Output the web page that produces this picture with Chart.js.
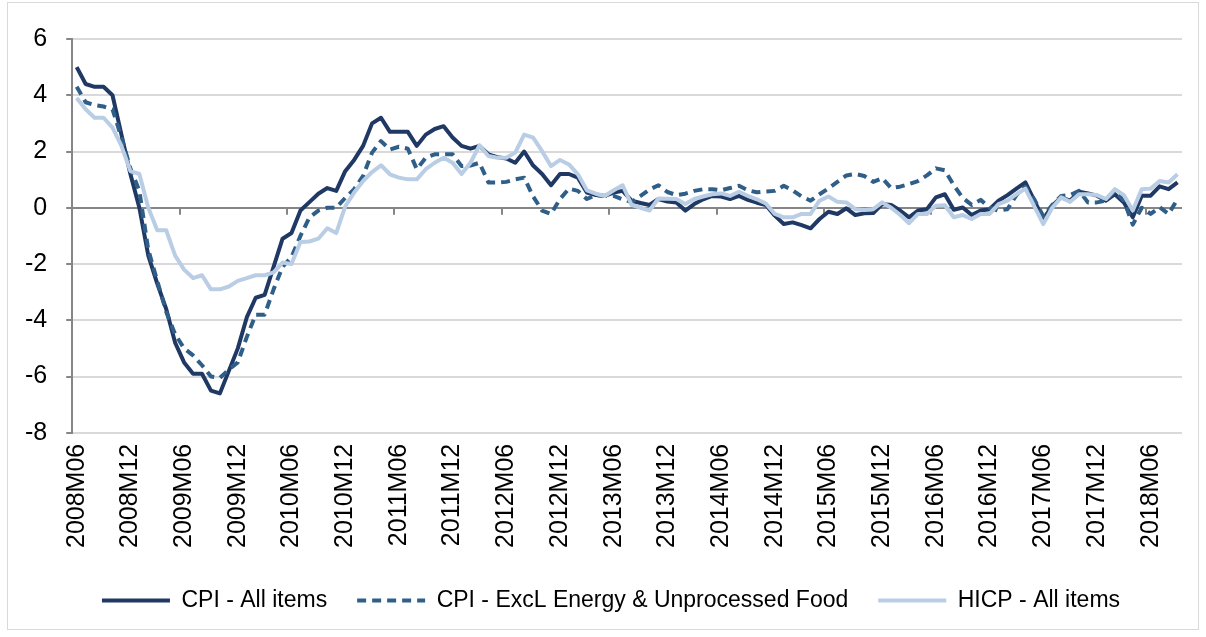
<!DOCTYPE html>
<html>
<head>
<meta charset="utf-8">
<script src="https://cdn.jsdelivr.net/npm/chart.js@4/dist/chart.umd.min.js"></script>
<style>
  html, body { margin: 0; padding: 0; background: #fff; }
  #wrap { position: relative; width: 1206px; height: 637px; }
  #frame { position: absolute; left: 7px; top: 2px; width: 1192px; height: 628px; border: 1px solid #d9d9d9; box-sizing: border-box; }
  canvas { position: absolute; left: 0; top: 0; }
</style>
</head>
<body>
<div id="wrap">
  <div id="frame"></div>
  <canvas id="grafica" width="1206" height="637"></canvas>
</div>
<script>
// meses 2008M06 .. 2018M09
const months = [];
for (let y = 2008, m = 6; months.length < 124; ) {
    months.push(y + 'M' + String(m).padStart(2, '0'));
    m++;
    if (m > 12) { m = 1; y++; }
}

// CPI - All items (una fila = 12 meses desde junio)
const cpiAll = [
    5.0, 4.4, 4.3, 4.3, 4.0, 2.6, 1.2, 0.0, -1.7, -2.7, -3.6, -4.8,
    -5.5, -5.9, -5.9, -6.5, -6.6, -5.8, -5.0, -3.9, -3.2, -3.1, -2.1, -1.1,
    -0.9, -0.1, 0.2, 0.5, 0.7, 0.6, 1.3, 1.7, 2.2, 3.0, 3.2, 2.7,
    2.7, 2.7, 2.2, 2.6, 2.8, 2.9, 2.5, 2.2, 2.1, 2.2, 1.9, 1.8,
    1.75, 1.6, 2.0, 1.5, 1.2, 0.8, 1.2, 1.2, 1.07, 0.54, 0.45, 0.42,
    0.54, 0.6, 0.25, 0.17, 0.1, 0.31, 0.22, 0.19, -0.1, 0.13, 0.3, 0.42,
    0.4, 0.31, 0.42, 0.28, 0.18, 0.1, -0.28, -0.58, -0.52, -0.62, -0.73, -0.4,
    -0.14, -0.22, -0.02, -0.26, -0.2, -0.19, 0.13, 0.1, -0.1, -0.34, -0.1, -0.05,
    0.37, 0.48, -0.07, 0.01, -0.26, -0.1, -0.05, 0.25, 0.45, 0.68, 0.9, 0.25,
    -0.4, 0.07, 0.37, 0.25, 0.57, 0.51, 0.43, 0.25, 0.48, 0.19, -0.34, 0.43,
    0.43, 0.76, 0.66, 0.9
];

// CPI - ExcL Energy & Unprocessed Food
const cpiExcl = [
    4.3, 3.75, 3.65, 3.6, 3.5, 2.5, 1.4, 0.6, -1.5, -2.6, -3.7, -4.5,
    -5.0, -5.25, -5.6, -6.0, -6.05, -5.75, -5.5, -4.6, -3.8, -3.8, -2.9, -2.1,
    -1.75, -1.0, -0.35, -0.1, 0.0, 0.0, 0.35, 0.66, 1.13, 1.96, 2.37, 2.07,
    2.17, 2.1, 1.37, 1.78, 1.9, 1.9, 1.9, 1.48, 1.5, 1.6, 0.9, 0.9,
    0.92, 1.01, 1.07, 0.4, -0.1, -0.22, 0.31, 0.68, 0.6, 0.31, 0.45, 0.42,
    0.42, 0.3, 0.2, 0.42, 0.65, 0.8, 0.56, 0.45, 0.5, 0.6, 0.66, 0.66,
    0.62, 0.7, 0.78, 0.62, 0.55, 0.58, 0.6, 0.78, 0.62, 0.4, 0.25, 0.48,
    0.69, 0.92, 1.15, 1.2, 1.13, 0.92, 1.05, 0.7, 0.75, 0.84, 0.95, 1.15,
    1.4, 1.33, 0.8, 0.35, 0.1, 0.28, 0.0, -0.1, -0.05, 0.45, 0.75, 0.3,
    -0.3, 0.1, 0.42, 0.45, 0.6, 0.19, 0.19, 0.25, 0.6, 0.25, -0.6, 0.0,
    -0.22, 0.02, -0.22, 0.31
];

// HICP - All items
const hicpAll = [
    3.9, 3.5, 3.2, 3.2, 2.85, 2.2, 1.3, 1.2, 0.0, -0.8, -0.8, -1.7,
    -2.2, -2.5, -2.4, -2.9, -2.9, -2.8, -2.6, -2.5, -2.4, -2.4, -2.3, -1.95,
    -2.0, -1.22, -1.2, -1.1, -0.73, -0.9, 0.05, 0.54, 0.95, 1.27, 1.51, 1.19,
    1.07, 1.01, 1.01, 1.37, 1.6, 1.78, 1.6, 1.2, 1.6, 2.22, 1.84, 1.78,
    1.78, 1.96, 2.6, 2.49, 2.01, 1.48, 1.7, 1.54, 1.19, 0.62, 0.5, 0.42,
    0.62, 0.8, 0.1, 0.0, -0.1, 0.33, 0.32, 0.31, 0.13, 0.31, 0.4, 0.48,
    0.51, 0.42, 0.57, 0.42, 0.3, 0.15, -0.22, -0.34, -0.34, -0.22, -0.22, 0.25,
    0.4, 0.21, 0.19, -0.05, -0.08, -0.05, 0.19, 0.0, -0.25, -0.55, -0.22, -0.22,
    0.07, 0.09, -0.34, -0.26, -0.4, -0.22, -0.22, 0.13, 0.25, 0.48, 0.68, 0.05,
    -0.58, 0.0, 0.37, 0.21, 0.48, 0.48, 0.45, 0.31, 0.66, 0.45, -0.1, 0.66,
    0.68, 0.95, 0.9, 1.19
];

const seriesNames = ['CPI - All items', 'CPI - ExcL Energy & Unprocessed Food', 'HICP - All items'];

// marcas del eje en la linea del cero, cada 12 meses
const zeroTicks = {
    id: 'zeroTicks',
    afterLayout(chart) {
        // mover la leyenda un poco a la derecha, como en el original
        chart.legend.left += 5;
        chart.legend.right += 5;
    },
    beforeDatasetsDraw(chart) {
        const xs = chart.scales.x;
        const ys = chart.scales.y;
        const half = (xs.getPixelForValue(1) - xs.getPixelForValue(0)) / 2;
        const y0 = ys.getPixelForValue(0);
        const ctx = chart.ctx;
        ctx.save();
        ctx.strokeStyle = '#868686';
        ctx.lineWidth = 2;
        ctx.beginPath();
        for (let i = 12; i < months.length; i += 12) {
            const px = Math.round(xs.getPixelForValue(i) - half);
            ctx.moveTo(px, y0);
            ctx.lineTo(px, y0 + 7);
        }
        ctx.stroke();
        ctx.restore();
    }
};

const ctx = document.getElementById('grafica').getContext('2d');
new Chart(ctx, {
    type: 'line',
    data: {
        labels: months,
        datasets: [{
            label: seriesNames[0],
            data: cpiAll,
            borderColor: '#1F3864',
            backgroundColor: 'transparent',
            borderWidth: 4,
            order: 2
        }, {
            label: seriesNames[1],
            data: cpiExcl,
            borderColor: '#2F5F88',
            backgroundColor: 'transparent',
            borderWidth: 4,
            borderDash: [9, 6],
            order: 1
        }, {
            label: seriesNames[2],
            data: hicpAll,
            borderColor: '#B9CDE5',
            backgroundColor: 'transparent',
            borderWidth: 4,
            order: 0
        }]
    },
    options: {
        responsive: false,
        animation: false,
        devicePixelRatio: 1,
        elements: {
            point: { radius: 0 },
            line: { tension: 0, fill: false, borderCapStyle: 'butt', borderJoinStyle: 'round' }
        },
        layout: { padding: { top: 39, left: 6, right: 0, bottom: 15 } },
        scales: {
            x: {
                type: 'category',
                offset: true,
                grid: { display: false, drawTicks: false },
                border: { display: false },
                afterFit: (scale) => { scale.paddingRight = 24; },
                ticks: {
                    autoSkip: false,
                    maxRotation: 90,
                    minRotation: 90,
                    padding: 11,
                    color: '#000',
                    font: { family: 'Liberation Sans, Arial, sans-serif', size: 25 },
                    callback: (v, i) => (i % 6 === 0 ? months[i] : '')
                }
            },
            y: {
                min: -8,
                max: 6,
                ticks: {
                    stepSize: 2,
                    padding: 19,
                    color: '#000',
                    font: { family: 'Liberation Sans, Arial, sans-serif', size: 25 }
                },
                grid: {
                    color: (c) => (c.tick && c.tick.value === 0 ? '#868686' : '#d9d9d9'),
                    lineWidth: 2,
                    tickLength: 6,
                    tickColor: '#868686'
                },
                border: { color: '#868686', width: 2 }
            }
        },
        plugins: {
            legend: {
                position: 'bottom',
                labels: {
                    usePointStyle: true,
                    pointStyle: 'line',
                    pointStyleWidth: 68,
                    padding: 30,
                    color: '#000',
                    font: { family: 'Liberation Sans, Arial, sans-serif', size: 23 },
                    sort: (a, b) => a.datasetIndex - b.datasetIndex,
                    generateLabels(chart) {
                        const items = Chart.defaults.plugins.legend.labels.generateLabels(chart);
                        items.forEach(it => {
                            const ds = chart.data.datasets[it.datasetIndex];
                            it.pointStyle = 'line';
                            it.lineDash = ds.borderDash || [];
                            it.lineWidth = ds.borderWidth;
                            it.strokeStyle = ds.borderColor;
                        });
                        return items;
                    }
                }
            },
            tooltip: { enabled: false }
        }
    },
    plugins: [zeroTicks]
});
</script>
</body>
</html>
